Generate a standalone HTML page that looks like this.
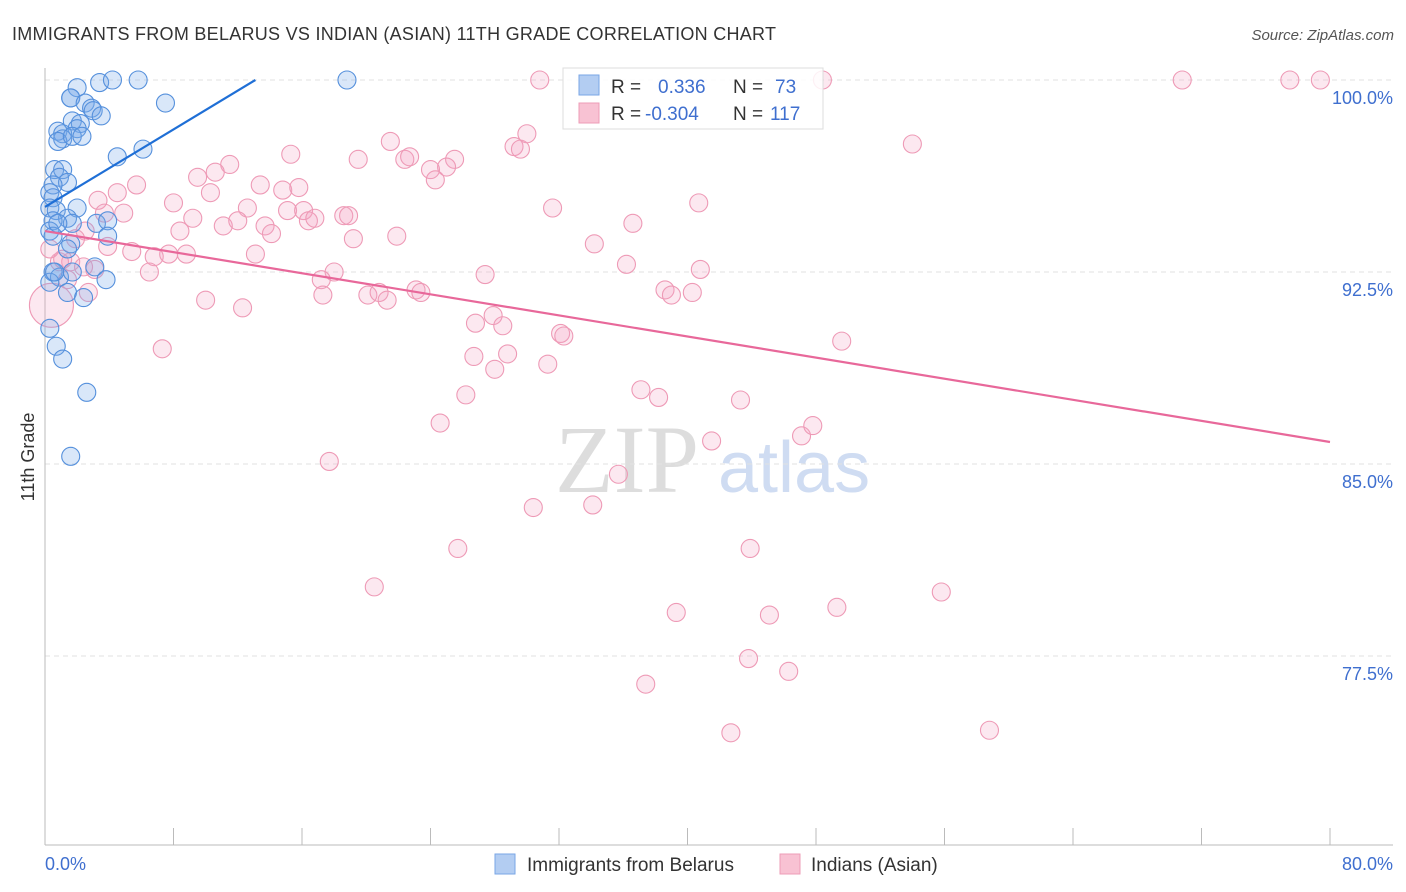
<!DOCTYPE html>
<html><head><meta charset="utf-8">
<style>
body{margin:0;background:#fff;font-family:"Liberation Sans",sans-serif;}
#wrap{position:relative;width:1406px;height:892px;overflow:hidden;}
</style></head>
<body>
<div id="wrap">
<svg id="chart" width="1406" height="892" xmlns="http://www.w3.org/2000/svg">
<text x="12" y="40" font-size="18" fill="#333" textLength="764">IMMIGRANTS FROM BELARUS VS INDIAN (ASIAN) 11TH GRADE CORRELATION CHART</text>
<text x="1394" y="40" font-size="15" fill="#555" font-style="italic" text-anchor="end">Source: ZipAtlas.com</text>
<text x="0" y="0" transform="translate(34,457) rotate(-90)" font-size="18" fill="#333" text-anchor="middle">11th Grade</text>
<g>
<text x="555" y="492" font-size="96" fill="#ddd" font-family="Liberation Serif,serif">ZIP</text>
<text x="718" y="492" font-size="72" fill="#cfdcf2">atlas</text>
</g>
<g id="grid"></g>
<g id="axes"></g>
<g id="pts"></g>
<g id="lines"></g>
<g>
<rect x="563" y="68" width="260" height="61" fill="#fff" fill-opacity="0.85" stroke="#ddd"/>
<rect x="579" y="75" width="20" height="20" fill="#b3cdf2" stroke="#7aa6e6"/>
<rect x="579" y="103" width="20" height="20" fill="#f8c2d3" stroke="#ee9cb7"/>
<text x="611" y="93" font-size="19" fill="#333">R = <tspan x="658" fill="#3f6fcf">0.336</tspan></text>
<text x="733" y="93" font-size="19" fill="#333">N = <tspan x="775" fill="#3f6fcf">73</tspan></text>
<text x="611" y="120" font-size="19" fill="#333">R = <tspan x="645" fill="#3f6fcf">-0.304</tspan></text>
<text x="733" y="120" font-size="19" fill="#333">N = <tspan x="770" fill="#3f6fcf">117</tspan></text>
</g>
<g>
<rect x="495" y="854" width="20" height="20" fill="#b3cdf2" stroke="#7aa6e6"/>
<text x="527" y="871" font-size="19" fill="#333">Immigrants from Belarus</text>
<rect x="780" y="854" width="20" height="20" fill="#f8c2d3" stroke="#ee9cb7"/>
<text x="811" y="871" font-size="19" fill="#333">Indians (Asian)</text>
</g>
</svg>
</div>
<script>
const yTicks=[100,92.5,85,77.5];
const yTickLabels=["100.0%","92.5%","85.0%","77.5%"];
const xTickVals=[0,8,16,24,32,40,48,56,64,72,80];
const xEndLabels=["0.0%","80.0%"];
const blueX=[3.4,4.2,5.8,18.8,2.0,1.6,1.6,7.5,2.5,2.9,3.0,3.5,1.7,2.2,2.0,0.8,1.1,1.1,0.8,1.7,2.3,4.5,6.1,0.6,1.1,0.9,1.4,0.5,0.3,0.5,0.3,0.7,2.0,1.4,1.7,0.5,0.3,0.5,1.6,3.2,3.9,3.9,1.4,3.1,3.8,0.5,0.9,0.3,1.7,1.4,2.4,0.3,0.7,1.1,2.6,1.6,0.6,0.8];
const blueY=[99.9,100,100,100,99.7,99.3,99.3,99.1,99.1,98.9,98.8,98.6,98.4,98.3,98.1,98.0,97.9,97.7,97.6,97.8,97.8,97.0,97.3,96.5,96.5,96.2,96.0,95.9,95.6,95.4,95.0,94.9,95.0,94.6,94.4,94.5,94.1,93.9,93.6,94.4,94.5,93.9,93.4,92.7,92.2,92.5,92.3,92.1,92.5,91.7,91.5,90.3,89.6,89.1,87.8,85.3,92.5,94.4];
const pinkX=[30.8,48.4,70.8,77.5,79.4,54.0,21.5,30.0,29.2,29.6,15.3,19.5,22.4,22.7,25.5,25.0,24.0,24.3,11.5,10.6,9.5,13.4,14.8,15.8,5.7,4.5,3.3,4.9,8.0,10.3,12.6,15.1,16.1,16.4,9.2,11.1,12.0,13.7,14.1,8.4,16.8,18.6,18.9,31.6,36.6,40.7,21.9,19.2,34.2,3.9,5.4,8.8,6.8,7.7,13.1,1.6,2.4,6.5,18.0,17.2,27.4,36.2,40.8,10.0,12.3,20.1,20.8,21.3,23.1,23.4,17.3,38.6,39.0,40.3,26.8,27.9,28.5,32.1,32.3,49.6,7.3,26.7,28.8,28.0,31.3,26.2,37.1,38.2,43.3,24.6,41.5,47.1,47.8,17.7,35.7,34.1,30.4,25.7,43.9,20.5,39.3,45.1,49.3,55.8,43.8,46.3,37.4,42.7,58.8,0.4,0.9,1.4,2.7,3.1,3.7,2.5,1.9,1.1,0.3];
const pinkY=[100,100,100,100,100,97.5,97.6,97.9,97.4,97.3,97.1,96.9,96.9,97.0,96.9,96.6,96.5,96.1,96.7,96.4,96.2,95.9,95.7,95.8,95.9,95.6,95.3,94.8,95.2,95.6,95.0,94.9,94.9,94.5,94.6,94.3,94.5,94.3,94.0,94.1,94.6,94.7,94.7,95.0,94.4,95.2,93.9,93.8,93.6,93.5,93.3,93.2,93.1,93.2,93.2,92.9,92.7,92.5,92.5,92.2,92.4,92.8,92.6,91.4,91.1,91.6,91.7,91.4,91.8,91.7,91.6,91.8,91.6,91.7,90.5,90.8,90.4,90.1,90.0,89.8,89.5,89.2,89.3,88.7,88.9,87.7,87.9,87.6,87.5,86.6,85.9,86.1,86.5,85.1,84.6,83.4,83.3,81.7,81.7,80.2,79.2,79.1,79.4,80.0,77.4,76.9,76.4,74.5,74.6,91.2,92.9,92.2,91.7,92.6,94.8,94.1,93.8,93.0,93.4];
const blueLineX=[0,13.1];
const blueLineY=[95.04,100];
const pinkLineX=[0,80];
const pinkLineY=[94.1,85.86];

const NS="http://www.w3.org/2000/svg";
const xs=v=>45+v*(1285/80);
const ys=v=>80+(100-v)*25.6;
function mk(tag,attrs,parent){const e=document.createElementNS(NS,tag);for(const k in attrs)e.setAttribute(k,attrs[k]);parent.appendChild(e);return e;}
const grid=document.getElementById('grid'),axes=document.getElementById('axes'),pts=document.getElementById('pts'),lines=document.getElementById('lines');
yTicks.forEach((t,i)=>{
  const l=mk('line',{x1:45,x2:1393,y1:ys(t),y2:ys(t),stroke:'#e2e2e2','stroke-dasharray':'5,4'},grid);
  
  
  const tx=mk('text',{x:1393,y:ys(t)+24,'font-size':18,fill:'#3f6fcf','text-anchor':'end'},axes);
  tx.textContent=yTickLabels[i];
  
  
});
const ax=mk('line',{x1:45,x2:1393,y1:845,y2:845,stroke:'#bbb'},axes);


const ay=mk('line',{x1:45,x2:45,y1:68,y2:845,stroke:'#bbb'},axes);


xTickVals.forEach(v=>{
  const t=mk('line',{x1:xs(v),x2:xs(v),y1:828,y2:845,stroke:'#bbb'},axes);
  
  
});
const xl0=mk('text',{x:45,y:870,'font-size':18,fill:'#3f6fcf'},axes);xl0.textContent=xEndLabels[0];


const xl1=mk('text',{x:1393,y:870,'font-size':18,fill:'#3f6fcf','text-anchor':'end'},axes);xl1.textContent=xEndLabels[1];


pinkX.forEach((v,i)=>{
  const big=(i===109);
  const c=mk('circle',{cx:xs(v),cy:ys(pinkY[i]),r:big?22:9,fill:'rgba(245,165,195,0.25)',stroke:'#ee9ab6','stroke-width':1.1},pts);
  
  
});
blueX.forEach((v,i)=>{
  const c=mk('circle',{cx:xs(v),cy:ys(blueY[i]),r:9,fill:'rgba(120,170,235,0.28)',stroke:'#5590dc','stroke-width':1.1},pts);
  
  
});
const bl=mk('line',{x1:xs(blueLineX[0]),y1:ys(blueLineY[0]),x2:xs(blueLineX[1]),y2:ys(blueLineY[1]),stroke:'#1f6fd6','stroke-width':2.2},lines);


const pl=mk('line',{x1:xs(pinkLineX[0]),y1:ys(pinkLineY[0]),x2:xs(pinkLineX[1]),y2:ys(pinkLineY[1]),stroke:'#e8689a','stroke-width':2.2},lines);


</script>
</body></html>
